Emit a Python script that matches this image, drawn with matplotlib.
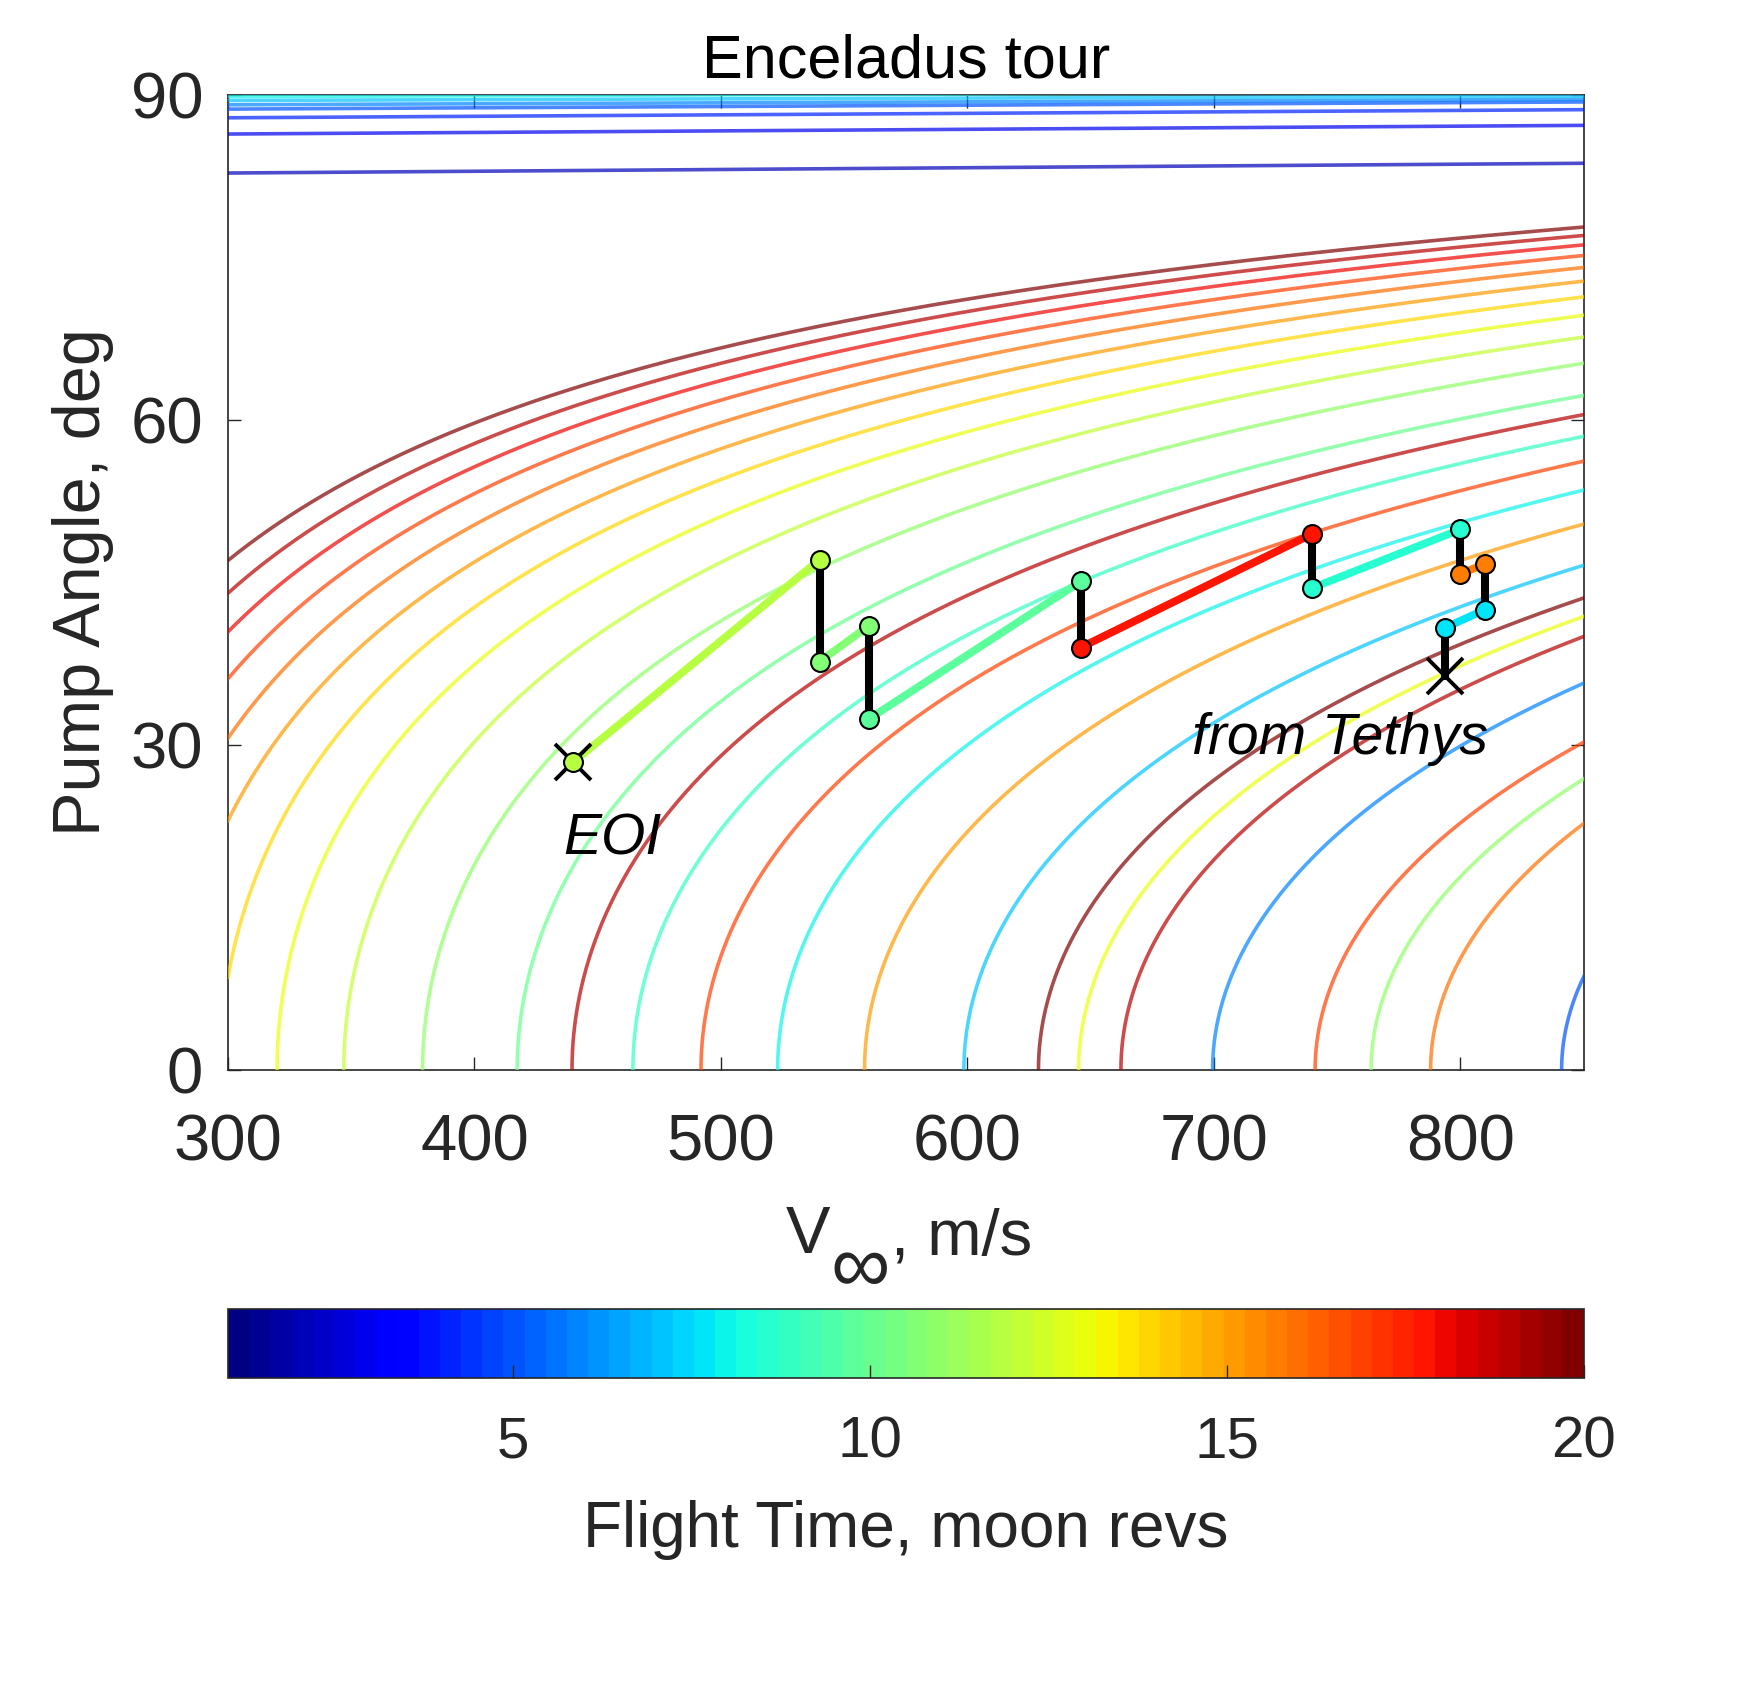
import numpy as np
import matplotlib
matplotlib.use('Agg')
import matplotlib.pyplot as plt
from matplotlib.colors import Normalize
from matplotlib.cm import ScalarMappable

plt.rcParams['font.family'] = ['Liberation Sans', 'DejaVu Sans']

# ---------------- data ----------------
# Enceladus resonance families (N moon revs : M spacecraft revs)
V_MOON = 12630.0          # m/s, moon orbital speed
RADIUS_RATIO = 1.0007     # r_moon / a_moon used for resonance semi-major axes
RES_N = [5, 6, 7, 8, 9, 10, 11, 11, 12, 13, 13, 14, 15, 15, 16, 16, 17, 17, 17, 18, 19, 19, 19, 20, 20]
RES_M = [4, 5, 6, 7, 8, 9, 10, 9, 11, 12, 11, 13, 14, 13, 15, 13, 16, 15, 14, 17, 18, 17, 16, 19, 17]

# near-polar families at the top of the chart
TOP_FT = [2, 3, 4, 5, 6, 7, 8]
TOP_ALPHA_300 = [82.8, 86.4, 87.9, 88.7, 89.1, 89.5, 89.85]
TOP_ALPHA_850 = [83.7, 87.2, 88.65, 89.36, 89.6, 89.9, 90.3]
TOP_V = [300, 850]

# tour: transfer legs (start/end points) and their flight times
LEG_V0 = [440, 540, 560, 646, 740, 800, 810]
LEG_A0 = [28.4, 37.7, 32.4, 39.0, 44.5, 45.8, 42.5]
LEG_V1 = [540, 560, 646, 740, 800, 810, 793.6]
LEG_A1 = [47.1, 41.0, 45.1, 49.5, 49.9, 46.7, 40.8]
LEG_FT = [11.7, 10.7, 9.7, 17.9, 8.7, 15.6, 7.6]

EOI_V, EOI_A = 440, 28.4
TETHYS_V, TETHYS_A = 793.6, 36.4

XTICKS = [300, 400, 500, 600, 700, 800]
YTICKS = [0, 30, 60, 90]
CTICKS = [5, 10, 15, 20]

# ---------------- figure ----------------
W, H, DPI = 1750, 1685, 200
fig = plt.figure(figsize=(W / DPI, H / DPI), dpi=DPI)
ax = fig.add_axes([0.1303, 0.365, 0.7746, 0.5786])

cmap = plt.get_cmap('jet', 64)
norm = Normalize(1, 20)
grey = '#262626'

for n, m in zip(RES_N, RES_M):
    k = RADIUS_RATIO * (m / n) ** (2.0 / 3.0)
    c = V_MOON ** 2 * (1.0 - k)
    v0 = V_MOON * (np.sqrt(2.0 - k) - 1.0)
    start = max(v0, 280.0)
    t = np.linspace(0, 1, 1500)
    v = start + (860.0 - start) * t ** 2
    cosa = np.clip((c - v ** 2) / (2.0 * V_MOON * v), -1, 1)
    a = np.degrees(np.arccos(cosa))
    ax.plot(v, a, color=cmap(norm(n)), alpha=0.7, lw=1.3, zorder=3)

for ft, a0, a1 in zip(TOP_FT, TOP_ALPHA_300, TOP_ALPHA_850):
    ax.plot(TOP_V, [a0, a1], color=cmap(norm(ft)), alpha=0.7, lw=1.3, zorder=3)

# tour legs
for v0, a0, v1, a1, ft in zip(LEG_V0, LEG_A0, LEG_V1, LEG_A1, LEG_FT):
    ax.plot([v0, v1], [a0, a1], color=cmap(norm(ft)), lw=2.8, zorder=5,
            solid_capstyle='butt')

# flybys (black vertical segments)
for i in range(len(LEG_V0) - 1):
    ax.plot([LEG_V1[i], LEG_V0[i + 1]], [LEG_A1[i], LEG_A0[i + 1]], color='k',
            lw=2.9, zorder=6, solid_capstyle='butt')
ax.plot([LEG_V1[-1], TETHYS_V], [LEG_A1[-1], TETHYS_A], color='k', lw=2.9, zorder=6)

ax.plot([EOI_V], [EOI_A], marker='x', ms=13, mew=1.4, color='k', zorder=6.5, ls='none')
ax.plot([TETHYS_V], [TETHYS_A], marker='x', ms=13, mew=1.4, color='k', zorder=6.5, ls='none')

for v0, a0, v1, a1, ft in zip(LEG_V0, LEG_A0, LEG_V1, LEG_A1, LEG_FT):
    ax.plot([v0, v1], [a0, a1], ls='none', marker='o', ms=6.8, mfc=cmap(norm(ft)),
            mec='k', mew=0.75, zorder=7)

ax.text(436, 19.85, 'EOI', fontstyle='italic', fontsize=20.5, ha='left',
        va='baseline', color='k', zorder=8)
ax.text(691, 29.2, 'from Tethys', fontstyle='italic', fontsize=20.5, ha='left',
        va='baseline', color='k', zorder=8)

ax.set_xlim(300, 850)
ax.set_ylim(0, 90)
ax.set_xticks(XTICKS)
ax.set_yticks(YTICKS)
ax.tick_params(direction='in', length=4.8, width=0.5, top=True, right=True,
               labelsize=23.5, colors=grey)
ax.tick_params(axis='x', pad=15.5)
ax.tick_params(axis='y', pad=9)
for s in ax.spines.values():
    s.set_color(grey)
    s.set_linewidth(0.6)

# title & labels
fig.text(0.5176, 1 - 77 / H, 'Enceladus tour', ha='center', va='baseline',
         fontsize=22, color='k')
fig.text(0.0474, 0.6543, 'Pump Angle, deg', rotation=90, ha='center', va='center',
         fontsize=24, color=grey)
tV = fig.text(786 / W, 1 - 1253 / H, 'V', ha='left', va='baseline', fontsize=24, color=grey)
tInf = ax.annotate('\u221e', xy=(1, 0), xycoords=tV, xytext=(0, -15),
                   textcoords='offset points', ha='left', va='bottom', fontsize=30,
                   color=grey, annotation_clip=False)
ax.annotate(', m/s', xy=(1, 0), xycoords=(tInf, tV), xytext=(0.5, 0),
            textcoords='offset points', ha='left', va='bottom', fontsize=23.5,
            color=grey, annotation_clip=False)

# colorbar
cax = fig.add_axes([0.1303, 0.1824, 0.7746, 0.0408])
sm = ScalarMappable(norm=norm, cmap=cmap)
cb = fig.colorbar(sm, cax=cax, orientation='horizontal', ticks=CTICKS)
cax.tick_params(direction='in', length=4.8, width=0.5, labelsize=21, pad=13.8,
                colors=grey, bottom=True, top=False)
cb.outline.set_edgecolor(grey)
cb.outline.set_linewidth(0.6)
fig.text(0.5176, 1 - 1530 / H, 'Flight Time, moon revs', ha='center', va='center',
         fontsize=23, color=grey)

fig.savefig('out.png', dpi=DPI, facecolor='white')
